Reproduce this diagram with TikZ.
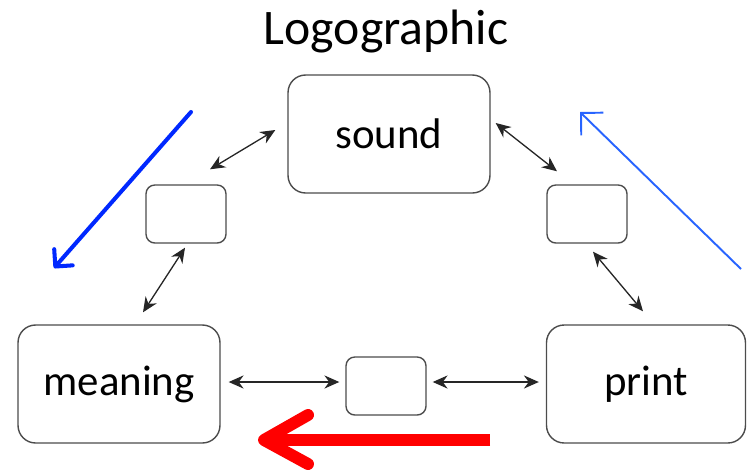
\documentclass[tikz,border=0pt]{standalone}
\usepackage{fontspec}
\setmainfont{Carlito}
\usetikzlibrary{arrows.meta}

\tikzset{
    bigbox/.style = {draw = gray!60!black, line width = 0.8pt, rounded corners = 10pt,
        minimum width = 4.04cm, minimum height = 2.36cm, font = \fontsize{24.4}{28}\selectfont},
    smallbox/.style = {draw = gray!60!black, line width = 0.8pt, rounded corners = 5pt,
        minimum width = 1.6cm, minimum height = 1.16cm},
    link/.style = {{Stealth[length = 8.5pt, width = 7.5pt]}-{Stealth[length = 8.5pt, width = 7.5pt]},
        line width = 0.75pt, color = black!85}
}

\begin{document}
\begin{tikzpicture}[x = 0.02cm, y = -0.02cm]
    \useasboundingbox (0, 0) rectangle (748, 471);

    \node (title) at (386, 32) {\fontsize{28.3}{32}\selectfont Logographic};

    \node[bigbox] (sound) at (389, 134) {sound};
    \node[bigbox] (meaning) at (119, 384) {meaning};
    \node[bigbox, minimum width = 3.98cm] (print) at (646, 384) {print};

    \node[smallbox] (lsmall) at (186, 214) {};
    \node[smallbox] (rsmall) at (587, 214) {};
    \node[smallbox] (bsmall) at (386, 386) {};

    \draw[link] ([shift = {(24, -15)}]lsmall.north) -- ([shift = {(-12, -4)}]sound.west);
    \draw[link] ([shift = {(-1, 4)}]lsmall.south) -- ([shift = {(24, -12)}]meaning.north);
    \draw[link] ([shift = {(5, -11)}]sound.east) -- ([shift = {(-30, -13)}]rsmall.north);
    \draw[link] ([shift = {(6, 8)}]rsmall.south) -- ([shift = {(-3, -13)}]print.north);
    \draw[link] ([shift = {(8, -2)}]meaning.east) -- ([shift = {(-6, -4)}]bsmall.west);
    \draw[link] ([shift = {(6, -4)}]bsmall.east) -- ([shift = {(-7, -2)}]print.west);

    \draw[-{Straight Barb[length = 7pt, width = 14pt, round]}, line width = 2.3pt,
        color = {rgb,255:red,0;green,40;blue,255}, line cap = round] (191, 112) -- (54, 268);
    \draw[-{Straight Barb[length = 9pt, width = 18pt]}, line width = 1.1pt,
        color = {rgb,255:red,40;green,100;blue,255}] (741, 269) -- (580, 112);

    \draw[line width = 6.8pt, color = red] (490, 440) -- (266, 440);
    \draw[line width = 6.8pt, color = red, line cap = round, line join = round]
        (308, 415) -- (264, 440) -- (308, 464);
\end{tikzpicture}
\end{document}
